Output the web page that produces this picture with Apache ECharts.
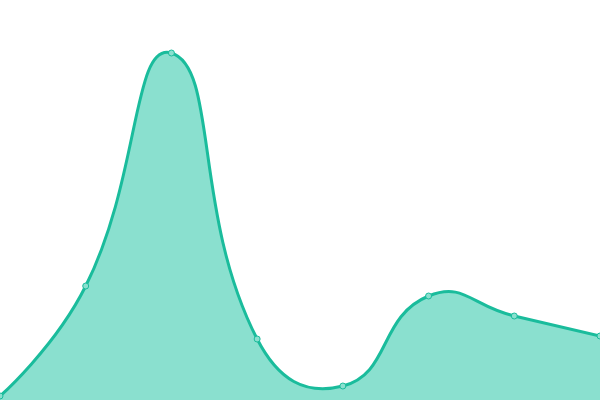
<!DOCTYPE html>
<html lang="en">

<head>
    <meta charset="UTF-8">
    <title>area</title>
    <style>
        * {
            margin: 0;
            padding: 0;
        }
    </style>
    <script src="https://cdn.jsdelivr.net/npm/echarts@6/dist/echarts.min.js"></script>
</head>

<body>
    <div id="echart" style="width: 600px;height:400px;"></div>
    <script>
        // 数据
        var categories = ['1', '2', '3', '4', '5', '6', '7', '8']
        var values = [4, 114, 347, 61, 14, 104, 84, 64]
        var smooth = 0.5

        // 老版本(4.x)的平滑方式, 控制点不被相邻点夹住
        function curvePath(pts) {
            var n = pts.length
            var cps = []
            for (var i = 0; i < n; i++) {
                var p = pts[i]
                if (i === 0 || i === n - 1) {
                    cps.push([p, p])
                    continue
                }
                var prev = pts[i - 1], next = pts[i + 1]
                var vx = (next[0] - prev[0]) * smooth
                var vy = (next[1] - prev[1]) * smooth
                var d0 = Math.hypot(p[0] - prev[0], p[1] - prev[1])
                var d1 = Math.hypot(p[0] - next[0], p[1] - next[1])
                var sum = d0 + d1
                if (sum) {
                    d0 /= sum
                    d1 /= sum
                }
                cps.push([
                    [p[0] - vx * d0, p[1] - vy * d0],
                    [p[0] + vx * d1, p[1] + vy * d1]
                ])
            }
            var d = 'M' + pts[0][0] + ' ' + pts[0][1]
            for (var j = 1; j < n; j++) {
                var a = cps[j - 1][1], b = cps[j][0]
                d += ' C' + a[0] + ' ' + a[1] + ' ' + b[0] + ' ' + b[1] + ' ' + pts[j][0] + ' ' + pts[j][1]
            }
            return d
        }

        var echart = echarts.init(document.getElementById('echart'));
        var option = {
            animation: false,
            grid: {
                left: 0,
                right: 0,
                top: 0,
                bottom: 0
            },
            xAxis: {
                type: 'category',
                boundaryGap: false,
                data: categories,
                show: false
            },
            yAxis: {
                type: 'value',
                min: 0,
                max: 400,
                show: false
            },
            series: [{
                type: 'custom',
                data: [0],
                clip: false,
                renderItem: function (params, api) {
                    if (params.dataIndex !== 0) return
                    var pts = values.map(function (v, i) {
                        return api.coord([i, v])
                    })
                    var base = api.coord([0, 0])[1]
                    var line = curvePath(pts)
                    var area = line + ' L' + pts[pts.length - 1][0] + ' ' + base + ' L' + pts[0][0] + ' ' + base + ' Z'
                    return {
                        type: 'group',
                        children: [{
                            type: 'path',
                            shape: { pathData: area },
                            style: { fill: '#8ae0cf', stroke: 'none' }
                        }, {
                            type: 'path',
                            shape: { pathData: line },
                            style: { fill: 'none', stroke: '#1abc9c', lineWidth: 3 }
                        }]
                    }
                }
            }, {
                type: 'scatter',
                data: values,
                z: 5,
                symbol: 'circle',
                symbolSize: 6,
                itemStyle: {
                    color: '#8ae0cf',
                    borderColor: '#1abc9c',
                    borderWidth: 1,
                    opacity: 1
                }
            }]
        };
        echart.setOption(option);
    </script>
</body>

</html>
